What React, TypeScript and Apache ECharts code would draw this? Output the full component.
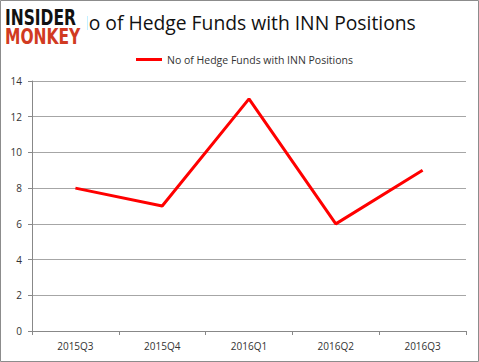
import React, { useEffect, useRef } from "react";
import * as echarts from "echarts";

const categories = ["2015Q3", "2015Q4", "2016Q1", "2016Q2", "2016Q3"];
const hedgeFunds = [8, 7, 13, 6, 9];
const seriesName = "No of Hedge Funds with INN Positions";
const titleText = "No of Hedge Funds with INN Positions";

export default function App() {
  const ref = useRef<HTMLDivElement>(null);
  useEffect(() => {
    if (!ref.current) return;
    const chart = echarts.init(ref.current, null, { renderer: "svg" });
    const font = "'Open Sans', 'Liberation Sans', sans-serif";
    const logoFont = "'DejaVu Sans Condensed', 'DejaVu Sans', sans-serif";
    chart.setOption({
      animation: false,
      backgroundColor: "#fff",
      textStyle: { fontFamily: font },
      grid: { left: 32, right: 13, top: 81, bottom: 31, containLabel: false },
      legend: {
        top: 49,
        left: 131,
        icon: "rect",
        itemWidth: 26,
        itemHeight: 3,
        itemGap: 2,
        textStyle: { fontSize: 10.5, color: "#333", fontFamily: font },
        data: [seriesName],
      },
      xAxis: {
        type: "category",
        data: categories,
        boundaryGap: true,
        axisLine: { lineStyle: { color: "#888" } },
        axisTick: { show: true, length: 4, lineStyle: { color: "#888" } },
        axisLabel: { fontSize: 10, color: "#333", margin: 10, fontFamily: font },
      },
      yAxis: {
        type: "value",
        min: 0,
        max: 14,
        interval: 2,
        axisLine: { show: true, lineStyle: { color: "#888" } },
        axisTick: { show: true, length: 4, lineStyle: { color: "#888" } },
        axisLabel: { fontSize: 10, color: "#333", margin: 10, fontFamily: font },
        splitLine: { lineStyle: { color: "#a6a6a6" } },
      },
      series: [
        {
          name: seriesName,
          type: "line",
          data: hedgeFunds,
          showSymbol: false,
          symbol: "none",
          lineStyle: { color: "#ff0000", width: 3 },
          itemStyle: { color: "#ff0000" },
        },
      ],
      graphic: [
        {
          type: "rect",
          shape: { x: 0.5, y: 0.5, width: 478, height: 361 },
          style: { fill: "none", stroke: "#8c8c8c", lineWidth: 1 },
          silent: true,
          z: 100,
        },
        {
          type: "text",
          x: 245,
          y: 22,
          style: {
            text: titleText,
            fontSize: 19.3,
            fontFamily: font,
            fill: "#111",
            textAlign: "center",
            textVerticalAlign: "middle",
          },
          z: 10,
        },
        {
          type: "rect",
          shape: { x: 3, y: 5, width: 84, height: 41 },
          style: { fill: "#fff" },
          z: 20,
        },
        {
          type: "text",
          x: 5,
          y: 17.5,
          scaleX: 0.82,
          style: {
            text: "INSIDER",
            fontSize: 21,
            fontWeight: "bold",
            fontFamily: logoFont,
            fill: "#111",
            textVerticalAlign: "middle",
          },
          z: 21,
        },
        {
          type: "text",
          x: 5,
          y: 36.5,
          scaleX: 0.82,
          style: {
            text: "MONKEY",
            fontSize: 21,
            fontWeight: "bold",
            fontFamily: logoFont,
            fill: "#d13a22",
            textVerticalAlign: "middle",
          },
          z: 21,
        },
      ],
    });
    return () => chart.dispose();
  }, []);
  return (
    <div
      ref={ref}
      style={{ position: "fixed", left: 0, top: 0, width: 479, height: 362 }}
    />
  );
}
